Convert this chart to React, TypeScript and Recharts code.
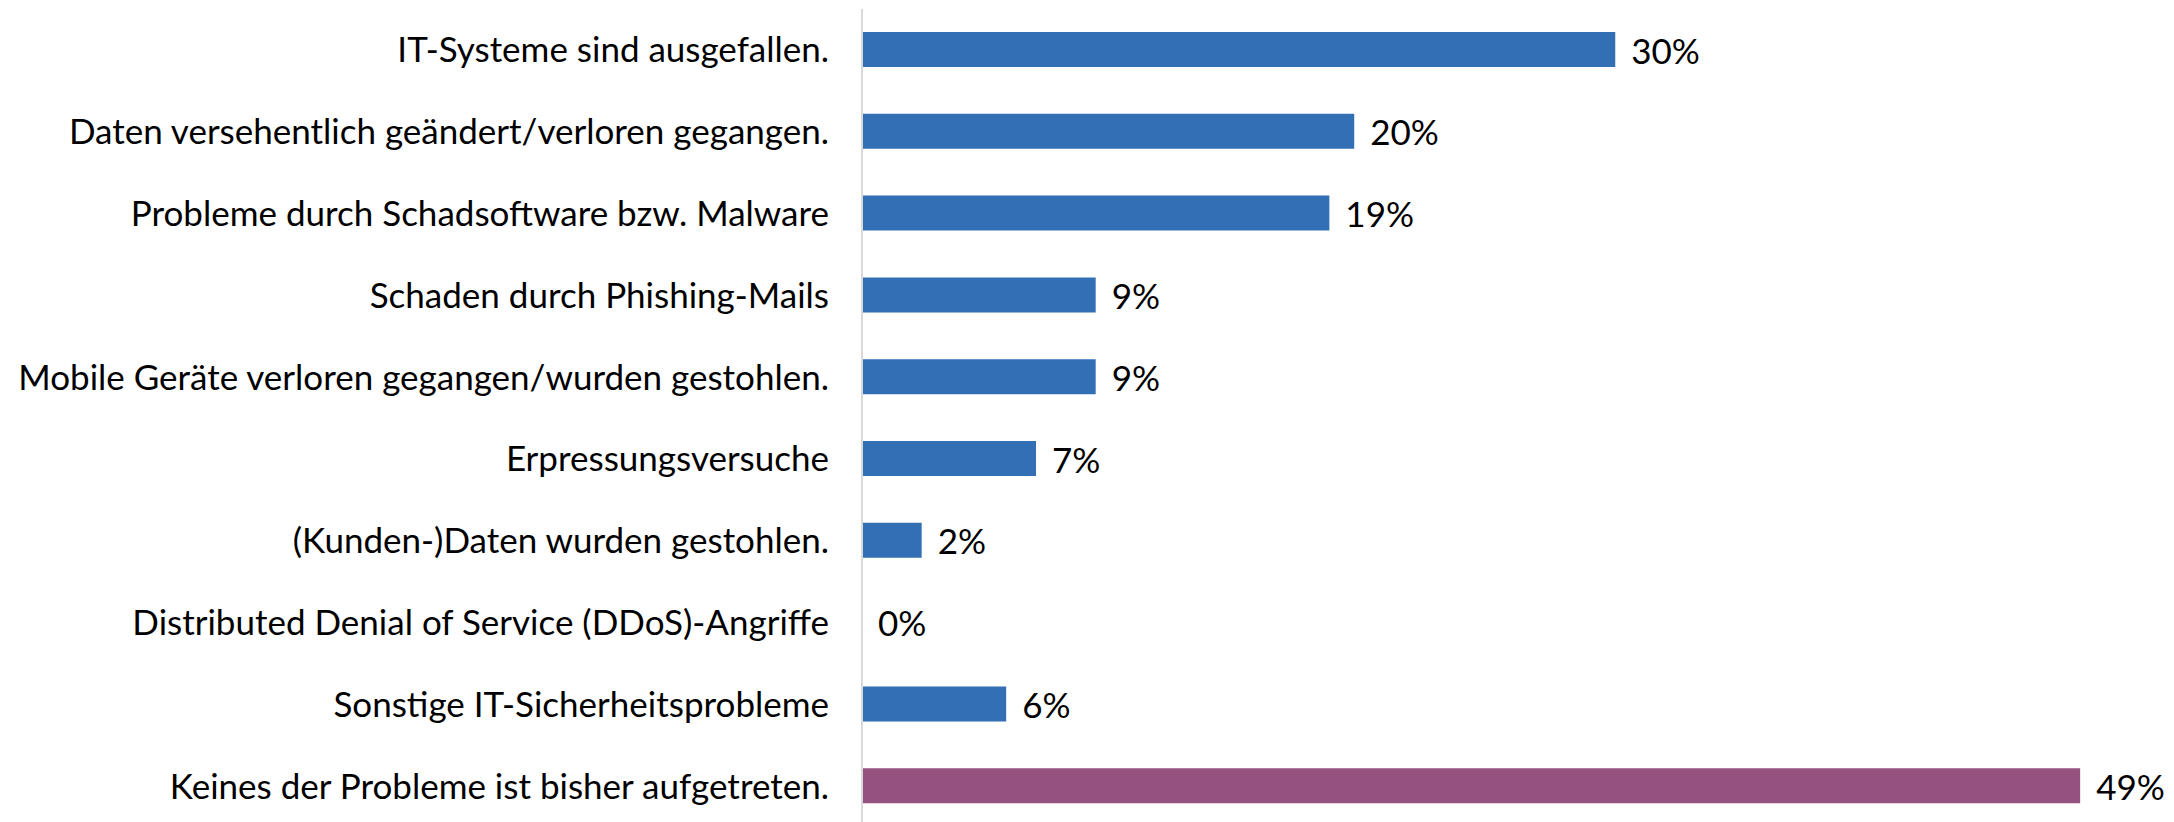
import { BarChart, Bar, XAxis, YAxis, Cell, LabelList } from 'recharts';

const categories = [
  'IT-Systeme sind ausgefallen.',
  'Daten versehentlich geändert/verloren gegangen.',
  'Probleme durch Schadsoftware bzw. Malware',
  'Schaden durch Phishing-Mails',
  'Mobile Geräte verloren gegangen/wurden gestohlen.',
  'Erpressungsversuche',
  '(Kunden-)Daten wurden gestohlen.',
  'Distributed Denial of Service (DDoS)-Angriffe',
  'Sonstige IT-Sicherheitsprobleme',
  'Keines der Probleme ist bisher aufgetreten.',
];

const shares = [30.3, 19.8, 18.8, 9.4, 9.4, 7.0, 2.4, 0, 5.8, 49.0];

const data = categories.map((name, i) => ({ name, value: shares[i] }));

const FONT = 'Lato, sans-serif';
const FONT_SIZE = 35;

// custom label; zero bars get a 1px invisible stub so the 0% label still shows
const renderLabel = (props: any) => {
  const { x, y, width, height, value } = props;
  const w = Number(value) === 0 ? 0 : Number(width || 0);
  return (
    <text
      x={Number(x) + w + 16}
      y={Number(y) + Number(height) / 2}
      dominantBaseline="central"
      fill="#000"
      fontSize={FONT_SIZE}
      fontFamily={FONT}
    >
      {`${Math.round(Number(value))}%`}
    </text>
  );
};

export default function App() {
  return (
    <div style={{ position: 'absolute', left: 0, top: 0, width: 2174, height: 822, overflow: 'hidden', background: '#fff' }}>
      <BarChart
        width={2174}
        height={840}
        data={data}
        layout="vertical"
        margin={{ top: 9, right: 69, bottom: 13, left: 0 }}
      >
        <XAxis type="number" domain={[0, 50]} hide />
        <YAxis
          type="category"
          dataKey="name"
          width={862}
          tickLine={false}
          tickSize={0}
          tickMargin={33}
          axisLine={{ stroke: '#d9d9d9', strokeWidth: 2 }}
          tick={{ fill: '#000', fontSize: FONT_SIZE, fontFamily: FONT }}
          interval={0}
        />
        <Bar
          dataKey="value"
          barSize={35}
          minPointSize={(v: number) => (v === 0 ? 1 : 0)}
          isAnimationActive={false}
        >
          {data.map((d, i) => (
            <Cell
              key={d.name}
              fill={i === data.length - 1 ? '#955280' : '#336fb5'}
              fillOpacity={d.value === 0 ? 0 : 1}
            />
          ))}
          <LabelList dataKey="value" content={renderLabel} />
        </Bar>
      </BarChart>
    </div>
  );
}
